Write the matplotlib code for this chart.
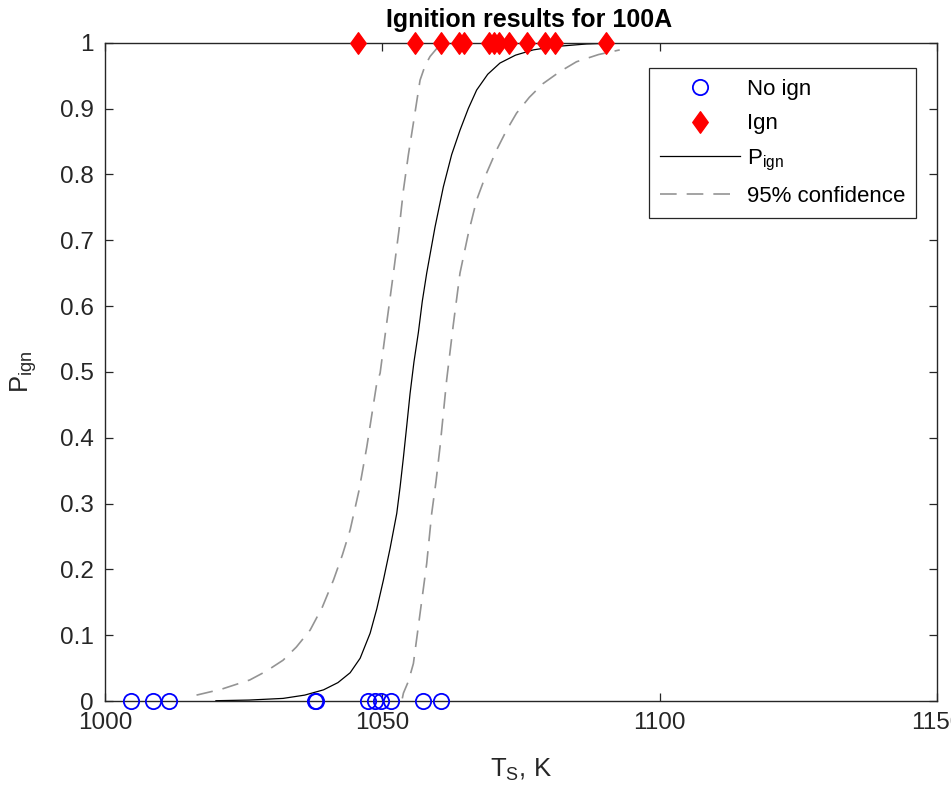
import numpy as np
import matplotlib
matplotlib.use("Agg")
import matplotlib.pyplot as plt
from matplotlib.path import Path

plt.rcParams["font.family"] = ["Liberation Sans", "DejaVu Sans"]
plt.rcParams["mathtext.fontset"] = "custom"
plt.rcParams["mathtext.rm"] = "Liberation Sans"
plt.rcParams["mathtext.it"] = "Liberation Sans"

# test outcomes
no_ign_T = [1004.7, 1008.6, 1011.6, 1037.9, 1038.0, 1047.4, 1048.7, 1049.8, 1051.5, 1057.3, 1060.5]
no_ign_P = [0] * len(no_ign_T)
ign_T = [1045.7, 1055.9, 1060.6, 1063.8, 1064.7, 1069.2, 1070.1, 1071.0, 1072.8,
         1076.1, 1079.4, 1081.1, 1090.4]
ign_P = [1] * len(ign_T)

# fitted probability curve
fit_T = [1020.0, 1026.0, 1032.1, 1036.0, 1039.4, 1042.0, 1044.2, 1046.0, 1047.8, 1049.0,
         1050.2, 1051.4, 1052.6, 1053.2, 1053.8, 1054.4, 1055.0, 1055.7, 1056.5, 1057.2,
         1058.0, 1059.5, 1061.0, 1062.5, 1064.0, 1065.5, 1067.0, 1069.0, 1071.2, 1074.0,
         1077.2, 1081.0, 1086.8, 1092.0]
fit_P = [0.0005, 0.0015, 0.004, 0.009, 0.017, 0.028, 0.043, 0.065, 0.103, 0.140,
         0.184, 0.232, 0.285, 0.325, 0.370, 0.418, 0.467, 0.515, 0.560, 0.607,
         0.650, 0.720, 0.781, 0.830, 0.867, 0.900, 0.928, 0.952, 0.969, 0.981,
         0.989, 0.994, 0.998, 0.9995]

# 95% confidence bounds
lo_T = [1016.5, 1021.0, 1026.1, 1029.0, 1032.1, 1034.5, 1037.0, 1039.2, 1041.2, 1042.8,
        1044.2, 1045.8, 1047.2, 1048.2, 1049.0, 1049.6, 1050.8, 1052.0, 1053.0, 1053.8,
        1054.7, 1055.6, 1056.8, 1057.7, 1058.6, 1059.8, 1061.0]
lo_P = [0.009, 0.018, 0.032, 0.045, 0.062, 0.082, 0.108, 0.143, 0.184, 0.222,
        0.260, 0.320, 0.386, 0.440, 0.483, 0.498, 0.575, 0.650, 0.715, 0.776,
        0.830, 0.878, 0.943, 0.965, 0.979, 0.991, 0.997]
hi_T = [1053.6, 1053.8, 1054.7, 1055.6, 1056.8, 1058.0, 1058.9, 1059.7, 1060.4, 1061.0,
        1061.6, 1062.8, 1064.0, 1065.5, 1067.0, 1068.8, 1070.6, 1072.4, 1074.2, 1076.5,
        1079.0, 1082.0, 1085.0, 1089.0, 1092.8]
hi_P = [0.004, 0.012, 0.030, 0.057, 0.133, 0.209, 0.285, 0.335, 0.386, 0.437,
        0.488, 0.572, 0.650, 0.710, 0.761, 0.802, 0.837, 0.867, 0.893, 0.917,
        0.938, 0.956, 0.971, 0.982, 0.989]

diamond = Path([(0, 1), (0.72, 0), (0, -1), (-0.72, 0), (0, 1)],
               [Path.MOVETO, Path.LINETO, Path.LINETO, Path.LINETO, Path.CLOSEPOLY])

fig = plt.figure(figsize=(9.51, 7.96), dpi=100)
ax = fig.add_axes([0.1104, 0.1193, 0.8749, 0.8271])

ax.plot(no_ign_T, no_ign_P, "o", color="blue", mfc="none", ms=11, mew=1.3,
        label="No ign", clip_on=False, zorder=5)
ax.plot(ign_T, ign_P, ls="none", marker=diamond, color="red", ms=15.5,
        label="Ign", clip_on=False, zorder=5)
ax.plot(fit_T, fit_P, "-", color="black", lw=0.9, label=r"P$_{\rm ign}$")
ax.plot(lo_T, lo_P, color="0.58", lw=1.2, dashes=(10, 6), label="95% confidence")
ax.plot(hi_T, hi_P, color="0.58", lw=1.2, dashes=(10, 6))

ax.set_xlim(1000, 1150)
ax.set_ylim(0, 1)
ax.set_xticks([1000, 1050, 1100, 1150])
ax.set_yticks(np.arange(0, 1.01, 0.1))
ax.set_yticklabels(["0", "0.1", "0.2", "0.3", "0.4", "0.5", "0.6", "0.7", "0.8", "0.9", "1"])

dark = "0.15"
for s in ax.spines.values():
    s.set_color(dark)
    s.set_linewidth(1.0)
ax.tick_params(direction="in", length=6, width=0.9, colors=dark, labelsize=17.5,
               top=True, right=True, pad=8)
for lab in ax.get_xticklabels() + ax.get_yticklabels():
    lab.set_color(dark)

ax.set_xlabel(r"T$_{\rm S}$, K", fontsize=18.5, color=dark, labelpad=16)
ax.set_ylabel(r"P$_{\rm ign}$", fontsize=18.5, color=dark, labelpad=15)
ax.set_title("Ignition results for 100A", fontsize=18, fontweight="bold", pad=11,
             x=0.51)

leg = ax.legend(loc="upper right", bbox_to_anchor=(0.9748, 0.9616), borderaxespad=0,
                fontsize=16, handlelength=3.6, handletextpad=0.3, borderpad=0.5,
                labelspacing=0.6, fancybox=False, framealpha=1, edgecolor=dark)
leg.get_frame().set_linewidth(0.9)

fig.savefig("out.png", dpi=100)
